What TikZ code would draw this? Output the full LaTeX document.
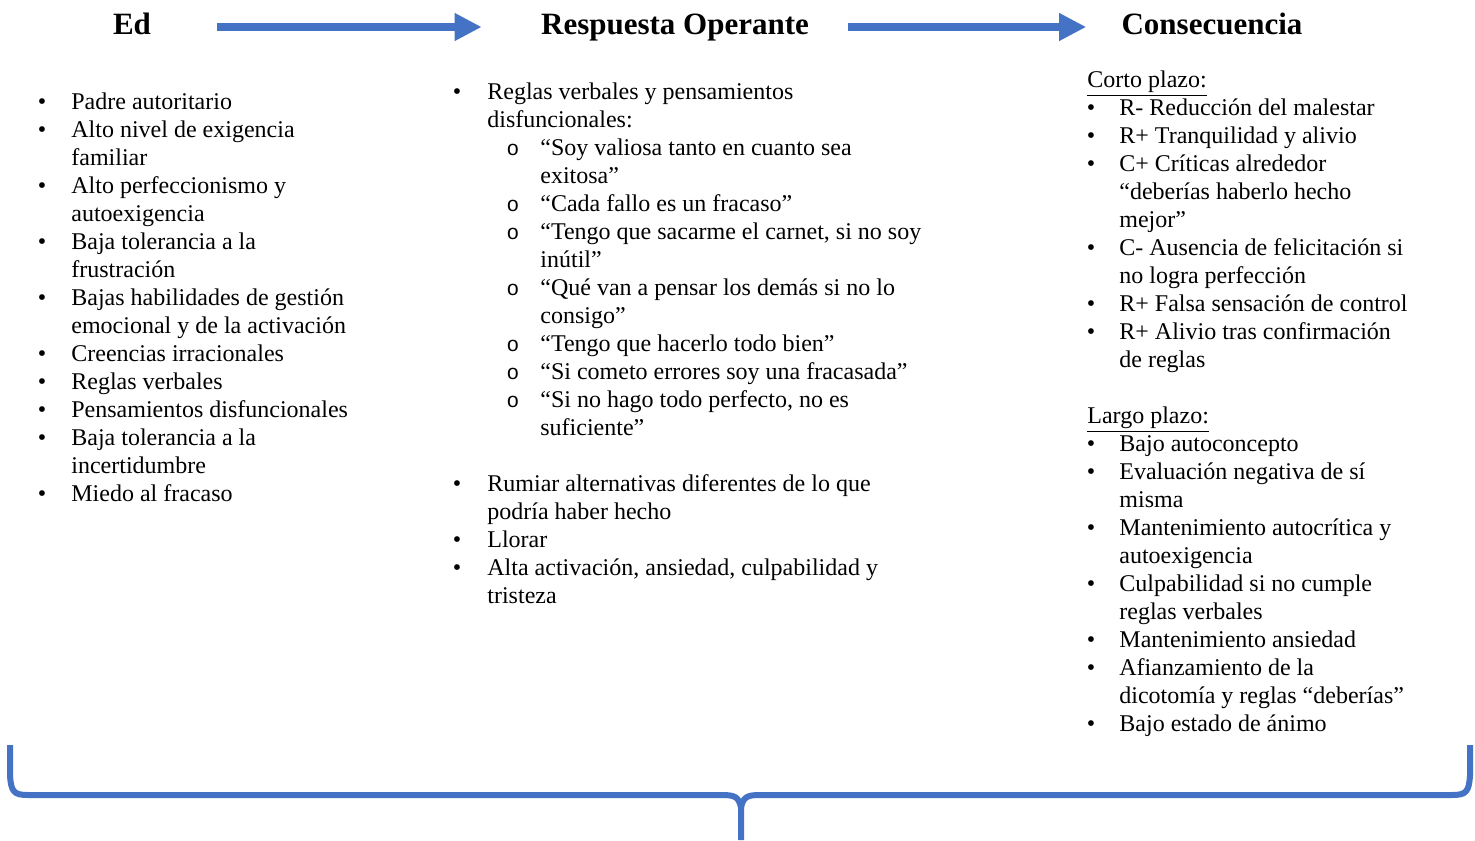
\documentclass[tikz,border=0pt]{standalone}
\usepackage{fontspec}
\setmainfont{Liberation Serif}
\newfontfamily\monofam{Liberation Mono}
\usetikzlibrary{arrows.meta,positioning,calc}
\definecolor{flowblue}{HTML}{4472C4}

\tikzset{
  head/.style={font=\fontsize{15.5}{18}\selectfont\bfseries, inner sep=0pt,
    text height=11pt, text depth=3pt},
  txt/.style={font=\fontsize{12}{14}\selectfont, anchor=base west, inner sep=0pt, yshift=-0.6pt},
  bul/.style={font=\fontsize{12}{14}\selectfont, anchor=base, inner sep=0pt, yshift=-0.6pt},
  subbul/.style={font=\monofam\fontsize{10.5}{14}\selectfont, anchor=base, inner sep=0pt, yshift=-0.6pt},
  flow/.style={draw=flowblue, line width=4pt, -{Triangle[length=13.5pt,width=13pt]}},
}

\begin{document}
\begin{tikzpicture}[x=0.5pt,y=-0.5pt]
  \useasboundingbox[fill=white] (0,0) rectangle (1475,840);

  % column headings
  \node[head] (ed) at (132,27) {Ed};
  \node[head] (ro) at (675,27) {Respuesta Operante};
  \node[head] (cons) at (1212,27) {Consecuencia};
  \draw[flow, shorten <=33pt, shorten >=29.5pt] (ed.east) -- (ro.west);
  \draw[flow, shorten <=19.5pt, shorten >=17.5pt] (ro.east) -- (cons.west);

  % Ed
  \foreach \y/\t [count=\i] in {108/Padre autoritario, 136/Alto nivel de exigencia,
      164/familiar, 192/Alto perfeccionismo y, 220/autoexigencia,
      248/Baja tolerancia a la, 276/frustración, 304/Bajas habilidades de gestión,
      332/emocional y de la activación, 360/Creencias irracionales,
      388/Reglas verbales, 416/Pensamientos disfuncionales,
      444/Baja tolerancia a la, 472/incertidumbre, 500/Miedo al fracaso}
    \node[txt] (ed\i) at (71,\y) {\t};
  \foreach \y [count=\i] in {108,136,192,248,304,360,388,416,444,500}
    \node[bul] (edb\i) at (42,\y) {•};

  % Respuesta operante
  \foreach \x/\y/\t [count=\i] in {487/98/Reglas verbales y pensamientos,
      487/126/disfuncionales:,
      540/154/“Soy valiosa tanto en cuanto sea, 540/182/exitosa”,
      540/210/“Cada fallo es un fracaso”,
      540/238/{“Tengo que sacarme el carnet, si no soy}, 540/266/inútil”,
      540/294/“Qué van a pensar los demás si no lo, 540/322/consigo”,
      540/350/“Tengo que hacerlo todo bien”,
      540/378/“Si cometo errores soy una fracasada”,
      540/406/{“Si no hago todo perfecto, no es}, 540/434/suficiente”,
      487/490/Rumiar alternativas diferentes de lo que, 487/518/podría haber hecho,
      487/546/Llorar,
      487/574/{Alta activación, ansiedad, culpabilidad y}, 487/602/tristeza}
    \node[txt] (ro\i) at (\x,\y) {\t};
  \foreach \y [count=\i] in {98,490,546,574}
    \node[bul] (rob\i) at (457,\y) {•};
  \foreach \y [count=\i] in {154,210,238,294,350,378,406}
    \node[subbul] (roo\i) at (513,\y) {o};

  % Consecuencia
  \node[txt] (corto) at (1087,86) {\underline{Corto plazo:}};
  \node[txt] (largo) at (1087,422) {\underline{Largo plazo:}};
  \foreach \y/\t [count=\i] in {114/R- Reducción del malestar,
      142/R+ Tranquilidad y alivio, 170/C+ Críticas alrededor,
      198/“deberías haberlo hecho, 226/mejor”,
      254/C- Ausencia de felicitación si, 282/no logra perfección,
      310/R+ Falsa sensación de control, 338/R+ Alivio tras confirmación,
      366/de reglas,
      450/Bajo autoconcepto, 478/Evaluación negativa de sí, 506/misma,
      534/Mantenimiento autocrítica y, 562/autoexigencia,
      590/Culpabilidad si no cumple, 618/reglas verbales,
      646/Mantenimiento ansiedad, 674/Afianzamiento de la,
      702/dicotomía y reglas “deberías”, 730/Bajo estado de ánimo}
    \node[txt] (cons\i) at (1119,\y) {\t};
  \foreach \y [count=\i] in {114,142,170,254,310,338,450,478,534,590,646,674,730}
    \node[bul] (consb\i) at (1091,\y) {•};

  % brace
  \draw[flowblue, line width=3pt, line join=round]
    (10,745) -- (10,775) .. controls (11,792) and (14,795) .. (28,795)
    -- (722,795) .. controls (735,795) and (739,797) .. (741,808) -- (741,840);
  \draw[flowblue, line width=3pt, line join=round]
    (1470,745) -- (1470,775) .. controls (1469,792) and (1466,795) .. (1452,795)
    -- (760,795) .. controls (747,795) and (743,797) .. (741,808);
\end{tikzpicture}
\end{document}
